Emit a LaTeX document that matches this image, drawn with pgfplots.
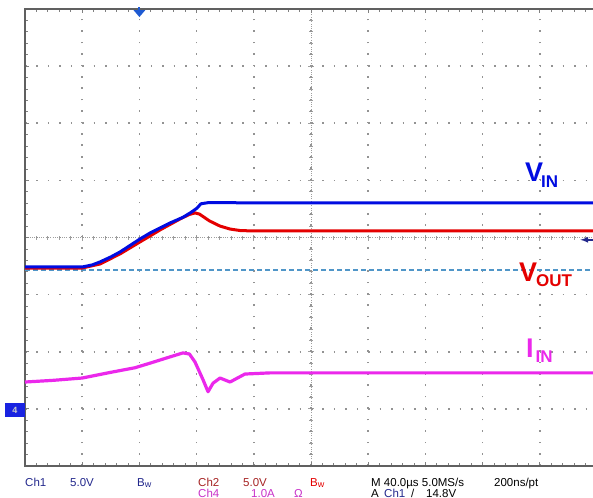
\documentclass[border=0pt]{standalone}
\usepackage{fontspec}
\setmainfont{Liberation Sans}
\usepackage{pgfplots}
\usepackage{pgfplotstable}
\pgfplotsset{compat=1.18}

\definecolor{chone}{RGB}{0,12,225}
\definecolor{chtwo}{RGB}{228,0,0}
\definecolor{chfour}{RGB}{235,40,235}
\definecolor{refdash}{RGB}{80,150,200}
\definecolor{navy}{RGB}{35,40,140}
\definecolor{dred}{RGB}{165,35,35}
\definecolor{mag}{RGB}{200,50,200}
\definecolor{trigblue}{RGB}{30,90,210}
\definecolor{gnd}{RGB}{25,35,225}

% Ch1 (V_IN), volts, 5 V/div
\pgfplotstableread{
t v
-80 12.42
-40 12.42
-33 12.6
-27.6 12.86
-20 13.3
-13.6 13.73
-6.6 14.3
0.4 14.87
7.4 15.39
14.4 15.83
21.4 16.27
30.5 16.77
36 17.19
40.3 17.57
43 17.95
48 18.05
120 18.02
320 18.02
}\vin

% Ch2 (V_OUT), volts, 5 V/div
\pgfplotstableread{
t v
-80 12.33
-40 12.33
-27.6 12.68
-13.6 13.56
0.4 14.61
14.4 15.66
28.4 16.62
35 17.02
39 17.15
42 17.05
49 16.45
56.4 16.0
63.4 15.74
70.4 15.61
80 15.57
320 15.57
}\vout

% Ch4 (I_IN), amps, 1 A/div
\pgfplotstableread{
t v
-80 0.47
-60 0.50
-40 0.54
-20 0.64
-3.1 0.72
7.4 0.80
21.4 0.91
30.5 0.98
35 0.96
38.9 0.82
44.5 0.51
48 0.30
51.5 0.45
56.4 0.54
63.4 0.47
73.8 0.61
91.3 0.63
320 0.63
}\iin

\begin{document}
\begin{tikzpicture}
% centre cross of the graticule
\begin{axis}[
  scale only axis, width=572bp, height=457bp,
  at={(25bp,32bp)}, anchor=south west,
  xmin=-200, xmax=200, ymin=-4, ymax=4,
  axis lines=middle,
  axis line style={-, gray!75, line width=0.8bp, dash pattern=on 0.8bp off 1.5bp},
  xtick={-200,-160,...,200}, ytick={-4,...,4}, minor tick num=4,
  xticklabels={}, yticklabels={},
  tick align=center, major tick length=6bp, minor tick length=4bp,
  tick style={gray!75, line width=0.8bp},
]
\end{axis}

\begin{axis}[
  scale only axis, width=572bp, height=457bp,
  at={(25bp,32bp)}, anchor=south west,
  xmin=-80, xmax=320, ymin=-4, ymax=4,
  xtick={-80,-40,...,320}, ytick={-4,...,4},
  minor tick num=4,
  xticklabels={}, yticklabels={},
  tick align=inside,
  major tick length=4bp, minor tick length=3bp,
  tick style={gray, line width=0.8bp},
  grid=major,
  major x grid style={gray!85, line width=1.6bp, dash pattern=on 1.6bp off 9.825bp},
  major y grid style={gray!85, line width=1.6bp, dash pattern=on 1.6bp off 9.84bp},
  axis line style={gray!75!black, line width=1.2bp},
  clip=false,
]
\addplot[refdash, line width=1.2bp, dash pattern=on 4.5bp off 3.5bp]
  coordinates {(-80,-0.57) (320,-0.57)};
\addplot[chfour, line width=3.2bp, line join=round] table[x=t, y expr=\thisrow{v}-3] {\iin};
\addplot[chtwo, line width=3bp, line join=round] table[x=t, y expr=\thisrow{v}/5-3] {\vout};
\addplot[chone, line width=3bp, line join=round] table[x=t, y expr=\thisrow{v}/5-3] {\vin};

% trigger position, ground and trigger level markers
\coordinate (trig) at (axis cs:0,4);
\coordinate (gndpos) at (axis cs:-80,-3);
\coordinate (lvl) at (axis cs:317.5,-0.04);
\end{axis}

\fill[trigblue] ([xshift=-6bp,yshift=-1bp]trig) -- ([xshift=6bp,yshift=-1bp]trig)
  -- ([yshift=-8bp]trig) -- cycle;
\fill[trigblue] ([xshift=-1bp,yshift=-1bp]trig) rectangle ([xshift=1bp,yshift=2bp]trig);
\node[fill=gnd, minimum width=20bp, minimum height=14bp, inner sep=0, anchor=east,
  text=gray!40, font=\fontsize{9bp}{9bp}\selectfont\bfseries] at ([yshift=-1.5bp]gndpos) {4};
\draw[-latex, navy, line width=1.6bp] (lvl) -- ++(-13bp,0);

% trace labels
\begin{scope}[every node/.style={anchor=base west, inner sep=0}]
\node[text=chone, font=\bfseries\fontsize{27bp}{27bp}\selectfont] at (525bp,316bp)
  {V\kern-2bp\raisebox{-6bp}{\fontsize{17bp}{17bp}\selectfont IN}};
\node[text=chtwo, font=\bfseries\fontsize{27bp}{27bp}\selectfont] at (519bp,216bp)
  {V\kern-1bp\raisebox{-5bp}{\fontsize{17bp}{17bp}\selectfont OUT}};
\node[text=chfour, font=\bfseries\fontsize{27bp}{27bp}\selectfont] at (526bp,140bp)
  {I\kern2bp\raisebox{-5bp}{\fontsize{17bp}{17bp}\selectfont IN}};
\end{scope}

% status bar
\begin{scope}[every node/.style={anchor=base west, inner sep=0},
  font=\fontsize{11.5bp}{11.5bp}\selectfont]
\node[text=navy] at (25bp,12bp) {Ch1};
\node[text=navy] at (70bp,12bp) {5.0V};
\node[text=navy] at (137bp,12bp) {B\raisebox{-1.5bp}{\fontsize{9bp}{9bp}\selectfont w}};
\node[text=dred] at (198bp,12bp) {Ch2};
\node[text=dred] at (243bp,12bp) {5.0V};
\node[text=chtwo] at (310bp,12bp) {B\raisebox{-1.5bp}{\fontsize{9bp}{9bp}\selectfont w}};
\node at (371bp,12bp) {M 40.0µs 5.0MS/s};
\node at (494bp,12bp) {200ns/pt};
\node[text=mag] at (198bp,1bp) {Ch4};
\node[text=mag] at (251bp,1bp) {1.0A};
\node[text=mag] at (294bp,1bp) {Ω};
\node at (371bp,1bp) {A};
\node[text=navy] at (384bp,1bp) {Ch1};
\node at (411bp,1bp) {/};
\node at (426bp,1bp) {14.8V};
\end{scope}

\pgfresetboundingbox
\useasboundingbox (0,0) rectangle (593bp,498bp);
\end{tikzpicture}
\end{document}
